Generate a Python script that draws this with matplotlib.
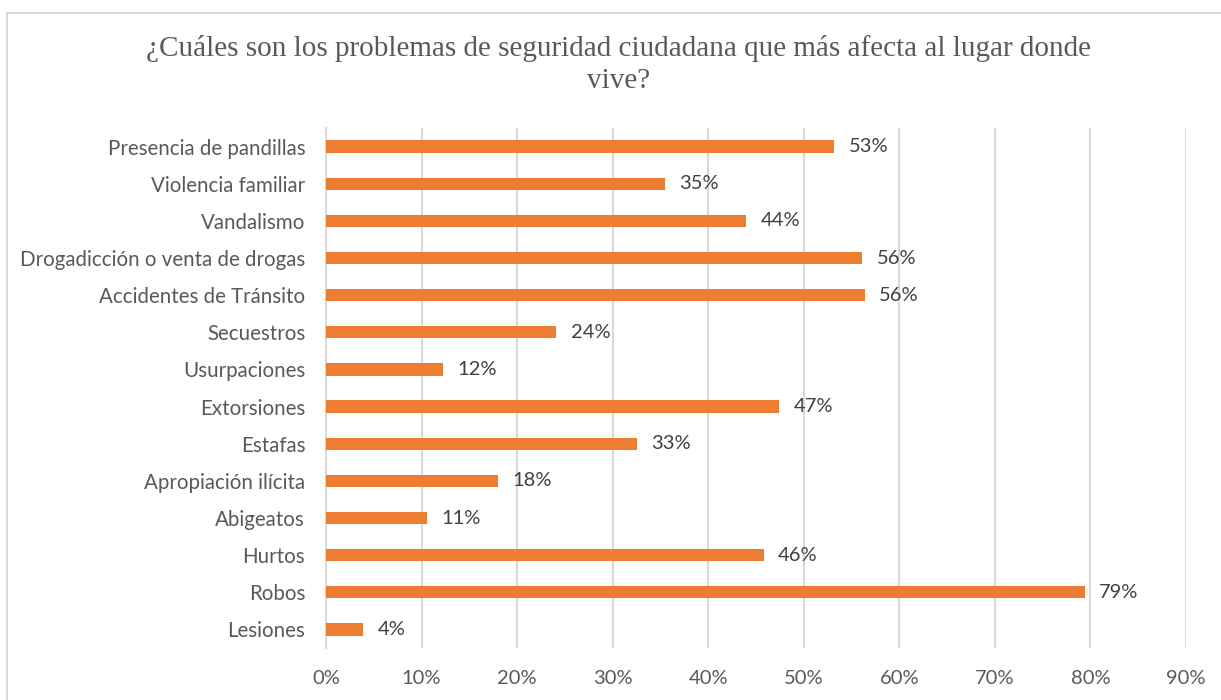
import matplotlib.pyplot as plt
from matplotlib.patches import Rectangle
from matplotlib.ticker import PercentFormatter

categories = [
    "Presencia de pandillas", "Violencia familiar", "Vandalismo",
    "Drogadicción o venta de drogas", "Accidentes de Tránsito", "Secuestros",
    "Usurpaciones", "Extorsiones", "Estafas", "Apropiación ilícita",
    "Abigeatos", "Hurtos", "Robos", "Lesiones",
]
values = [0.532, 0.355, 0.440, 0.561, 0.564, 0.241, 0.122,
          0.474, 0.325, 0.180, 0.106, 0.458, 0.794, 0.039]
labels = ["53%", "35%", "44%", "56%", "56%", "24%", "12%",
          "47%", "33%", "18%", "11%", "46%", "79%", "4%"]
xticks = [0, 0.1, 0.2, 0.3, 0.4, 0.5, 0.6, 0.7, 0.8, 0.9]

bar_color = "#ED7D31"
txt_color = "#595959"
plt.rcParams['font.family'] = ['Lato', 'DejaVu Sans']

fig = plt.figure(figsize=(12.21, 7), dpi=100)
ax = fig.add_axes([326 / 1221, 1 - 648 / 700, (1186 - 326) / 1221, (648 - 128) / 700])

# border around the chart area
fig.patches.append(Rectangle((7 / 1221, -0.05), 1.2, 1 - 13 / 700 + 0.05,
                             transform=fig.transFigure, fill=False,
                             edgecolor="#d9d9d9", linewidth=1.5))

ypos = list(range(len(categories)))[::-1]
ax.barh(ypos, values, height=0.33, color=bar_color, zorder=3)
for y, v, lab in zip(ypos, values, labels):
    ax.text(v + 0.015, y, lab, va="center", ha="left", fontsize=14.5, color="#404040")

ax.set_xlim(0, 0.9)
ax.set_ylim(-0.5, len(categories) - 0.5)
ax.set_xticks(xticks)
ax.xaxis.set_major_formatter(PercentFormatter(1.0, decimals=0))
ax.set_yticks(ypos)
ax.set_yticklabels(categories)
ax.tick_params(axis="x", length=0, labelsize=14.5, labelcolor=txt_color, pad=16)
ax.tick_params(axis="y", length=0, labelsize=14.8, labelcolor=txt_color, pad=15)
ax.grid(axis="x", color="#d9d9d9", linewidth=1.5, zorder=0)
for s in ["top", "right", "bottom"]:
    ax.spines[s].set_visible(False)
ax.spines["left"].set_color("#d9d9d9")
ax.spines["left"].set_linewidth(1.5)

fig.text(619 / 1221, 1 - 65 / 700,
         "¿Cuáles son los problemas de seguridad ciudadana que más afecta al lugar donde\nvive?",
         ha="center", va="center", fontsize=21, color=txt_color,
         family="Liberation Serif", linespacing=1.3)

fig.savefig("out.png", dpi=100)
